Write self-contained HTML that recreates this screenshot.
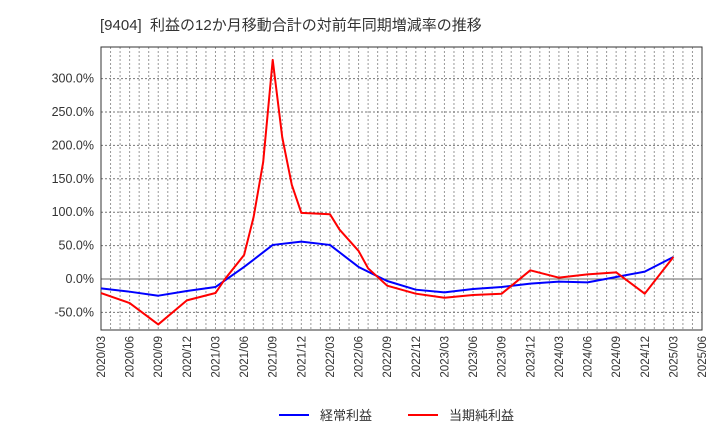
<!DOCTYPE html>
<html><head><meta charset="utf-8"><style>
body{margin:0;background:#fff;font-family:"Liberation Sans","Noto Sans CJK JP",sans-serif}
</style></head><body>
<svg id="c" width="720" height="440" xmlns="http://www.w3.org/2000/svg">
<text x="100" y="30" font-size="15" fill="#333" xml:space="preserve" style="white-space:pre">[9404]  利益の12か月移動合計の対前年同期増減率の推移</text>
<g id="grid"></g><g id="axes"></g><g id="series"></g>
<g>
<line x1="279" y1="415" x2="309" y2="415" stroke="#0000ff" stroke-width="2"/>
<text x="320" y="420" font-size="13" fill="#333">経常利益</text>
<line x1="408" y1="415" x2="438" y2="415" stroke="#ff0000" stroke-width="2"/>
<text x="449" y="420" font-size="13" fill="#333">当期純利益</text>
</g>
</svg>
<script>
const xTickLabels=["2020/03","2020/06","2020/09","2020/12","2021/03","2021/06","2021/09","2021/12","2022/03","2022/06","2022/09","2022/12","2023/03","2023/06","2023/09","2023/12","2024/03","2024/06","2024/09","2024/12","2025/03","2025/06"];
const yTicks=[-50,0,50,100,150,200,250,300];
const blueDates=["2020/03","2020/06","2020/09","2020/12","2021/03","2021/06","2021/09","2021/12","2022/03","2022/06","2022/09","2022/12","2023/03","2023/06","2023/09","2023/12","2024/03","2024/06","2024/09","2024/12","2025/03"];
const blueValues=[-14,-19,-25,-18,-12,18,51,56,51,18,-3,-16,-20,-15,-12,-7,-4,-5,3,11,33];
const redDates=["2020/03","2020/06","2020/09","2020/12","2021/03","2021/04","2021/06","2021/07","2021/08","2021/09","2021/10","2021/11","2021/12","2022/03","2022/04","2022/06","2022/07","2022/09","2022/12","2023/03","2023/06","2023/09","2023/12","2024/03","2024/06","2024/09","2024/12","2025/03"];
const redValues=[-21,-36,-68,-32,-21,0,36,93,175,328,212,141,99,97,74,42,16,-10,-22,-28,-24,-22,13,2,7,10,-22,33];
const L=101,R=702,T=47,B=330,NS="http://www.w3.org/2000/svg";
function mi(d){const [y,m]=d.split("/").map(Number);return (y-2020)*12+(m-3);}
const X=d=>L+mi(d)*(R-L)/63;
const Y=v=>279-v*33.4/50;
function mk(t,a,p){const e=document.createElementNS(NS,t);for(const k in a)e.setAttribute(k,a[k]);p.appendChild(e);return e;}
const g=document.getElementById("grid"),ax=document.getElementById("axes"),s=document.getElementById("series");
for(let m=1;m<63;m++){const x=L+m*(R-L)/63;const l=mk("line",{x1:x,x2:x,y1:T,y2:B,stroke:"#999","stroke-dasharray":"2,2","stroke-width":1},g);

}
yTicks.forEach(v=>{const y=Y(v);const l=mk("line",{x1:L,x2:R,y1:y,y2:y,stroke:v===0?"#666":"#777","stroke-dasharray":v===0?"":"2,2","stroke-width":1},g);


const t=mk("text",{x:L-7,y:y+4,"text-anchor":"end","font-size":12.5,fill:"#333"},ax);t.textContent=v.toFixed(1)+"%";

});
const fr=mk("rect",{x:L,y:T,width:R-L,height:B-T,fill:"none",stroke:"#333","stroke-width":1},ax);


xTickLabels.forEach(d=>{const x=X(d);const t=mk("text",{x:x+4,y:B+6,"text-anchor":"end","font-size":11.5,fill:"#333",transform:`rotate(-90 ${x+4} ${B+6})`},ax);t.textContent=d;

});
function line(ds,vs,c,n){const p=mk("polyline",{points:ds.map((d,i)=>X(d)+","+Y(vs[i])).join(" "),fill:"none",stroke:c,"stroke-width":2,"stroke-linejoin":"round"},s);

}
line(blueDates,blueValues,"#0000ff","ordinary-profit-line");
line(redDates,redValues,"#ff0000","net-profit-line");
</script>
</body></html>
